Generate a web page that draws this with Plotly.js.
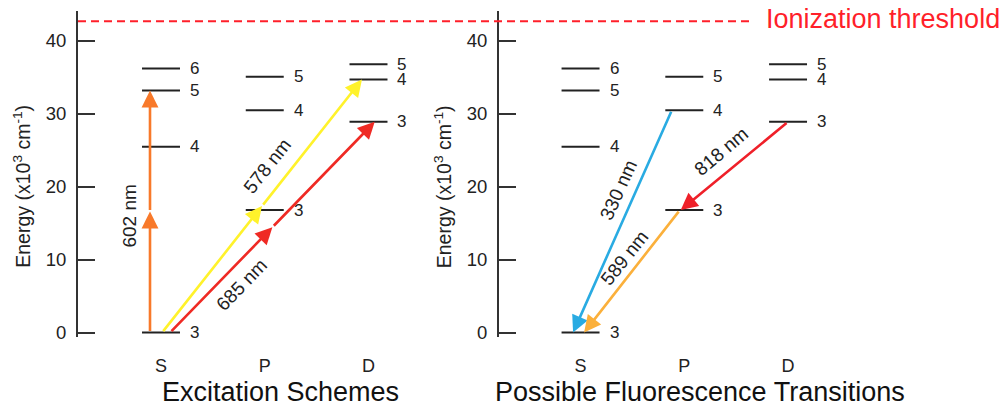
<!DOCTYPE html>
<html><head><meta charset="utf-8">
<script src="https://cdn.plot.ly/plotly-3.0.1.min.js"></script>
<style>html,body{margin:0;padding:0;background:#fff}#chart{width:1003px;height:406px}</style>
</head><body><div id="chart"></div>
<script>
// ---------------- data (energies in 10^3 cm^-1) ----------------
const seriesNames = ['S', 'P', 'D'];
const sLevels = [0, 25.5, 33.2, 36.2];
const sLabels = ['3', '4', '5', '6'];
const pLevels = [16.8, 30.5, 35.1];
const pLabels = ['3', '4', '5'];
const dLevels = [28.9, 34.7, 36.8];
const dLabels = ['3', '4', '5'];
const ionizationEnergy = 42.7;
const ionizationText = 'Ionization threshold';
const yTicks = [0, 10, 20, 30, 40];
const panelTitles = ['Excitation Schemes', 'Possible Fluorescence Transitions'];
const yTitle = 'Energy (x10<sup>3</sup> cm<sup>-1</sup>)';

// excitation (two-photon) transitions
const excitationNames = ['602 nm', '578 nm', '685 nm'];
const excitationFrom = [['S', '3'], ['S', '3'], ['S', '3']];
const excitationTo = [['S', '5'], ['D', '4'], ['D', '3']];
// fluorescence transitions
const fluorescenceNames = ['330 nm', '589 nm', '818 nm'];
const fluorescenceFrom = [['P', '4'], ['P', '3'], ['D', '3']];
const fluorescenceTo = [['S', '3'], ['S', '3'], ['P', '3']];

// ---------------- styles / positions ----------------
const FONT = '"Liberation Sans", Arial, Helvetica, sans-serif';
const INK = '#222';
const W = 1003;
const levelHalf = 0.183;
const excitationColors = ['#F8792A', '#FFF22B', '#EF2A24'];
const fluorescenceColors = ['#29ABE2', '#FBB03B', '#EF2029'];
// [tail offset, tip offset] relative to column centre (column units)
const excitationOffsets = [[-0.106, -0.106], [0.01, -0.063], [0.087, 0.06]];
const fluorescenceOffsets = [[-0.12, -0.072], [-0.043, 0.034], [0, -0.034]];
// label [xshift, yshift, angle]
const excitationLabelPos = [[-20, -5, -90], [5, 39.5, -51.7], [-30.5, -57.5, -45.8]];
const fluorescenceLabelPos = [[-3.5, 31.5, -65.6], [-7, 13.5, -51.4], [-13, 14, -40.2]];

const levels = {
  S: {e: sLevels, n: sLabels},
  P: {e: pLevels, n: pLabels},
  D: {e: dLevels, n: dLabels}
};
const col = s => seriesNames.indexOf(s);
const energy = (s, n) => levels[s].e[levels[s].n.indexOf(n)];

const panels = [
  {xa: 'x', ya: 'y', domain: [78 / W, 451.5 / W], range: [-0.8, 2.8], titleX: 22 / W},
  {xa: 'x2', ya: 'y2', domain: [499 / W, 872.5 / W], range: [-0.786, 2.814], titleX: 442.5 / W}
];

const traces = [];
const annotations = [];

panels.forEach((p, pi) => {
  seriesNames.forEach(s => {
    const xs = [], ys = [];
    levels[s].e.forEach((e, i) => {
      xs.push(col(s) - levelHalf, col(s) + levelHalf, null);
      ys.push(e, e, null);
      annotations.push({
        xref: p.xa, yref: p.ya, x: col(s) + levelHalf, y: e,
        text: levels[s].n[i], showarrow: false, xanchor: 'left', yanchor: 'middle',
        xshift: 8, font: {family: FONT, size: 17, color: INK}
      });
    });
    traces.push({
      type: 'scatter', mode: 'lines', x: xs, y: ys, xaxis: p.xa, yaxis: p.ya,
      line: {color: INK, width: 2}, hoverinfo: 'skip', showlegend: false
    });
  });
  // y-axis title
  annotations.push({
    xref: 'paper', yref: p.ya, x: p.titleX, y: 20, text: yTitle, textangle: -90,
    showarrow: false, xanchor: 'center', yanchor: 'middle',
    font: {family: FONT, size: 19.5, color: INK}
  });
  // panel title
  annotations.push({
    xref: p.xa, yref: 'paper', x: 1.15, y: -0.168, text: panelTitles[pi],
    showarrow: false, xanchor: 'center', yanchor: 'middle',
    font: {family: FONT, size: 27, color: '#111'}
  });
});

function arrow(p, x0, y0, x1, y1, color) {
  annotations.push({
    xref: p.xa, yref: p.ya, axref: p.xa, ayref: p.ya,
    x: x1, y: y1, ax: x0, ay: y0, text: '', showarrow: true,
    arrowhead: 2, arrowsize: 1.3, arrowwidth: 2.6, arrowcolor: color, standoff: 0, startstandoff: 0
  });
}
function label(p, x, y, text, pos) {
  annotations.push({
    xref: p.xa, yref: p.ya, x: x, y: y, text: text, showarrow: false,
    xanchor: 'center', yanchor: 'middle', xshift: pos[0], yshift: pos[1], textangle: pos[2],
    font: {family: FONT, size: 19, color: INK}
  });
}

// excitation: two-photon arrows with a head at the midpoint
excitationNames.forEach((name, i) => {
  const p = panels[0];
  const [fs, fn] = excitationFrom[i], [ts, tn] = excitationTo[i];
  const x0 = col(fs) + excitationOffsets[i][0], y0 = energy(fs, fn);
  const x1 = col(ts) + excitationOffsets[i][1], y1 = energy(ts, tn);
  const xm = (x0 + x1) / 2, ym = (y0 + y1) / 2;
  arrow(p, x0, y0, xm, ym, excitationColors[i]);
  arrow(p, xm, ym, x1, y1, excitationColors[i]);
  label(p, xm, ym, name, excitationLabelPos[i]);
});
// fluorescence
fluorescenceNames.forEach((name, i) => {
  const p = panels[1];
  const [fs, fn] = fluorescenceFrom[i], [ts, tn] = fluorescenceTo[i];
  const x0 = col(fs) + fluorescenceOffsets[i][0], y0 = energy(fs, fn);
  const x1 = col(ts) + fluorescenceOffsets[i][1], y1 = energy(ts, tn);
  arrow(p, x0, y0, x1, y1, fluorescenceColors[i]);
  label(p, (x0 + x1) / 2, (y0 + y1) / 2, name, fluorescenceLabelPos[i]);
});

// ionization threshold label
annotations.push({
  xref: 'paper', yref: 'y', x: 764 / W, y: ionizationEnergy, text: ionizationText,
  showarrow: false, xanchor: 'left', yanchor: 'middle', yshift: 2,
  font: {family: FONT, size: 27, color: '#FF1F2A'}
});

function xAxis(p) {
  return {
    domain: p.domain, range: p.range, anchor: p.ya, showline: false, showgrid: false, zeroline: false,
    tickmode: 'array', tickvals: seriesNames.map((s, i) => i), ticktext: seriesNames,
    ticks: '', ticklabelstandoff: 16, tickfont: {family: FONT, size: 18, color: INK}, fixedrange: true
  };
}
function yAxis(p) {
  return {
    anchor: p.xa, range: [-0.6, 44.1], showline: true, linecolor: '#333', linewidth: 2,
    ticks: 'inside', ticklen: 17, tickwidth: 2, tickcolor: '#333',
    tickmode: 'array', tickvals: yTicks, ticklabelstandoff: 6,
    tickfont: {family: FONT, size: 18.5, color: INK}, showgrid: false, zeroline: false, fixedrange: true
  };
}

const layout = {
  width: 1003, height: 406,
  margin: {l: 0, r: 0, t: 11, b: 69},
  paper_bgcolor: '#fff', plot_bgcolor: '#fff', showlegend: false,
  xaxis: xAxis(panels[0]), yaxis: yAxis(panels[0]),
  xaxis2: xAxis(panels[1]), yaxis2: yAxis(panels[1]),
  shapes: [{
    type: 'line', xref: 'paper', yref: 'y', x0: 78 / W, x1: 752 / W,
    y0: ionizationEnergy, y1: ionizationEnergy,
    line: {color: '#FF1F2A', width: 2, dash: '8px,5px'}
  }],
  annotations: annotations
};

Plotly.newPlot('chart', traces, layout, {displayModeBar: false, staticPlot: true});
</script>
</body></html>
